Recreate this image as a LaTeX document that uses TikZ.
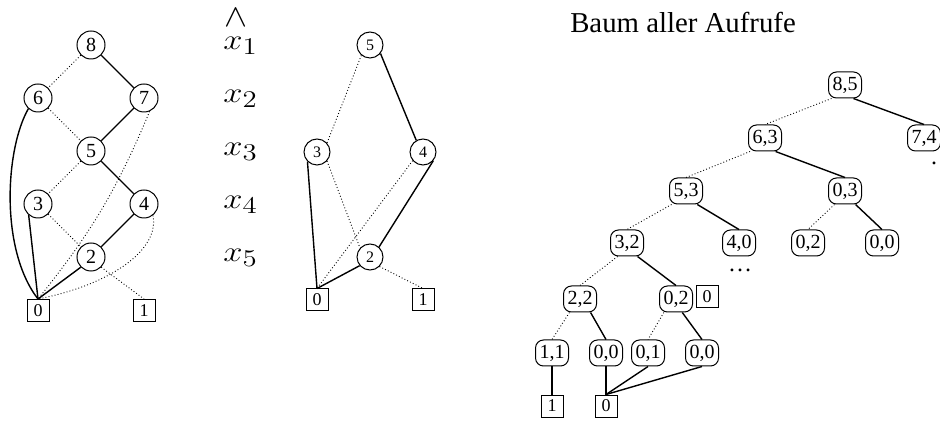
\documentclass[tikz,border=0pt]{standalone}
\usepackage{fontspec}
\usepackage{graphicx}
\setmainfont{Liberation Serif}
\newcommand{\xvar}[1]{\scalebox{1.2}[1]{$x_{\mbox{\fontsize{12}{14}\selectfont$#1$}}$}}
\begin{document}
\begin{tikzpicture}[x=0.5pt,y=-0.5pt,
  sl/.style={line width=0.7pt},
  dl/.style={line width=0.45pt, dash pattern=on 0.45pt off 1.1pt},
  lc/.style={circle, draw, line width=0.5pt, minimum size=14pt, inner sep=0pt, font=\fontsize{10}{12}\selectfont},
  mc/.style={circle, draw, line width=0.5pt, minimum size=13pt, inner sep=0pt, font=\fontsize{8}{10}\selectfont},
  leaf/.style={rectangle, draw, line width=0.5pt, minimum size=11pt, inner sep=0pt, font=\fontsize{9}{11}\selectfont},
  tn/.style={rectangle, rounded corners=4pt, draw, line width=0.5pt, minimum width=16.5pt, minimum height=13pt, inner sep=1pt, font=\fontsize{10}{12}\selectfont},
  lab/.style={anchor=west, inner sep=0pt, font=\Large},
  dots/.style={inner sep=0pt, font=\fontsize{12}{14}\selectfont}]
\useasboundingbox (0,0) rectangle (940,421);
\clip (0,0) rectangle (940,421);

% left graph
\node[lc] (a8) at (91,45) {8};
\node[lc] (a6) at (38,98) {6};
\node[lc] (a7) at (144,98) {7};
\node[lc] (a5) at (91,151) {5};
\node[lc] (a3) at (38,204) {3};
\node[lc] (a4) at (144,204) {4};
\node[lc] (a2) at (91,257) {2};
\node[leaf] (a0) at (38,310.5) {0};
\node[leaf] (a1) at (144,310.5) {1};
\draw[dl] (a8.225) -- (a6.45);
\draw[sl] (a8.-45) -- (a7.135);
\draw[dl] (a6.-45) -- (a5.135);
\draw[sl] (a7.225) -- (a5.45);
\draw[dl] (a5.225) -- (a3.45);
\draw[sl] (a5.-45) -- (a4.135);
\draw[dl] (a3.-45) -- (a2.135);
\draw[sl] (a4.225) -- (a2.45);
\draw[sl] (a2.225) -- (a0.north);
\draw[dl] (a2.-45) -- (a1.north);
\draw[sl] (a3.230) -- (a0.north);
\draw[sl] (a6.228) .. controls (5,150) and (0,250) .. (a0.north);
\draw[dl] (a7.-67) to[bend left=8] (a0.north);
\draw[dl] (a4.-52) .. controls (160,250) and (110,285) .. (a0.north);

% variable labels
\node[lab] (l0) at (224,18) {\scalebox{1.2}[1.1]{$\wedge$}};
\node[lab] (l1) at (223,46) {\xvar{1}};
\node[lab] (l2) at (223,99) {\xvar{2}};
\node[lab] (l3) at (223,152) {\xvar{3}};
\node[lab] (l4) at (223,205) {\xvar{4}};
\node[lab] (l5) at (223,258) {\xvar{5}};

% middle graph
\node[mc] (b5) at (370,45) {5};
\node[mc] (b3) at (317,152) {3};
\node[mc] (b4) at (423,152) {4};
\node[mc] (b2) at (370,257) {2};
\node[leaf] (b0) at (317,300) {0};
\node[leaf] (b1) at (423,300) {1};
\draw[dl] (b5.230) -- (b3.42);
\draw[sl] (b5.-39) -- (b4.120);
\draw[sl] (b3.225) -- (b0.north);
\draw[dl] (b3.-42) -- (b2.138);
\draw[dl] (b4.220) -- (b0.north);
\draw[sl] (b4.-40) -- (b2.48);
\draw[sl] (b2.220) -- (b0.north);
\draw[dl] (b2.-45) -- (b1.north);

% tree of all calls
\node[font=\Large, inner sep=0pt] (title) at (683,23) {Baum aller Aufrufe};
\node[tn] (t85) at (845,85) {8,5};
\node[tn] (t63) at (765,138) {6,3};
\node[tn] (t74) at (924,138) {7,4};
\node[tn] (t53) at (686,191) {5,3};
\node[tn] (t03) at (845,191) {0,3};
\node[tn] (t32) at (627,243) {3,2};
\node[tn] (t40) at (739,243) {4,0};
\node[tn] (t02r) at (808,243) {0,2};
\node[tn] (t00r) at (882,243) {0,0};
\node[tn] (t22) at (580,299) {2,2};
\node[tn] (t02) at (676,299) {0,2};
\node[leaf] (z0) at (707,297) {0};
\node[tn] (t11) at (552,353) {1,1};
\node[tn] (t00) at (606,353) {0,0};
\node[tn] (t01) at (648,353) {0,1};
\node[tn] (t00b) at (702,353) {0,0};
\node[leaf] (e1) at (552,406) {1};
\node[leaf] (e0) at (606,406) {0};
\node[dots] (d1) at (740,270) {\ldots};
\node[dots] (d2) at (934,163) {.};

\draw[dl] (t85.225) -- (t63.north);
\draw[sl] (t85.302) -- (t74.north);
\draw[dl] (t63.222) -- (t53.north);
\draw[sl] (t63.308) -- (t03.north);
\draw[dl] (t53.223) -- (t32.north);
\draw[sl] (t53.310) -- (t40.north);
\draw[dl] (t03.232) -- (t02r.north);
\draw[sl] (t03.308) -- (t00r.north);
\draw[dl] (t32.235) -- (t22.north);
\draw[sl] (t32.308) -- (t02.north);
\draw[dl] (t22.232) -- (t11.north);
\draw[sl] (t22.308) -- (t00.north);
\draw[dl] (t02.228) -- (t01.north);
\draw[sl] (t02.295) -- (t00b.north);
\draw[sl] (t11.south) -- (e1.north);
\draw[sl] (t00.south) -- (e0.north);
\draw[sl] (t01.south) -- (e0.north);
\draw[sl] (t00b.south) -- (e0.north);
\end{tikzpicture}
\end{document}
